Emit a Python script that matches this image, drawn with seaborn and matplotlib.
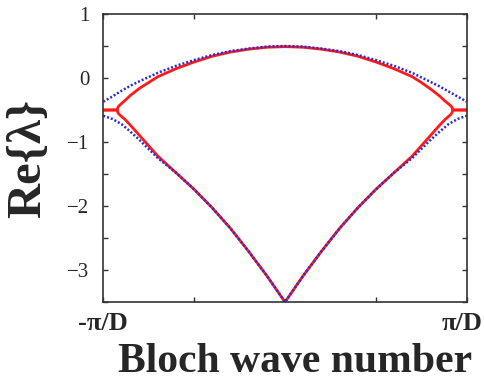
import seaborn as sns
import pandas as pd
import matplotlib.pyplot as plt
import numpy as np

# Bloch wave number in units of pi/D
k_blue = [-1.0, -0.95, -0.9, -0.85, -0.8, -0.7, -0.6, -0.5, -0.4, -0.3, -0.2, -0.1, 0.0,
          0.1, 0.2, 0.3, 0.4, 0.5, 0.6, 0.7, 0.8, 0.85, 0.9, 0.95, 1.0]
blue_upper = [-0.37, -0.29, -0.20, -0.12, -0.05, 0.08, 0.19, 0.28, 0.36, 0.42, 0.46, 0.49, 0.50,
              0.49, 0.46, 0.42, 0.36, 0.28, 0.19, 0.08, -0.06, -0.13, -0.21, -0.29, -0.37]
blue_lower = [-0.59, -0.64, -0.72, -0.84, -0.97, -1.25, -1.48, -1.74, -2.03, -2.35, -2.71, -3.09, -3.50,
              -3.09, -2.71, -2.35, -2.03, -1.74, -1.48, -1.25, -0.97, -0.84, -0.72, -0.64, -0.59]

k_red = [-1.0, -0.923, -0.92, -0.915, -0.91, -0.9, -0.88, -0.85, -0.8, -0.75, -0.7, -0.6, -0.5, -0.4,
         -0.3, -0.2, -0.1, 0.0, 0.1, 0.2, 0.3, 0.4, 0.5, 0.6, 0.7, 0.75, 0.8, 0.85, 0.88, 0.9,
         0.91, 0.915, 0.92, 0.923, 1.0]
red_upper = [-0.50, -0.50, -0.46, -0.44, -0.425, -0.40, -0.35, -0.27, -0.16, -0.07, 0.02, 0.145, 0.25, 0.34,
             0.405, 0.45, 0.48, 0.49, 0.48, 0.45, 0.405, 0.34, 0.25, 0.145, 0.02, -0.07, -0.17, -0.28, -0.36, -0.405,
             -0.43, -0.445, -0.46, -0.50, -0.50]
red_lower = [-0.50, -0.50, -0.54, -0.56, -0.575, -0.60, -0.65, -0.74, -0.90, -1.06, -1.22, -1.48, -1.74, -2.03,
             -2.35, -2.71, -3.09, -3.50, -3.09, -2.71, -2.35, -2.03, -1.74, -1.48, -1.22, -1.06, -0.90, -0.74, -0.65, -0.60,
             -0.575, -0.56, -0.54, -0.50, -0.50]

sns.set_style("ticks")
plt.rcParams['font.family'] = ['Liberation Serif', 'DejaVu Serif']

fig = plt.figure(figsize=(4.84, 3.81), dpi=100)
ax = fig.add_axes([0.2134, 0.2073, 0.7509, 0.756])

red = pd.DataFrame({"k": k_red, "upper": red_upper, "lower": red_lower})
blue = pd.DataFrame({"k": k_blue, "upper": blue_upper, "lower": blue_lower})

for col in ["upper", "lower"]:
    sns.lineplot(x="k", y=col, data=red, sort=False, color="#ff1a1a", lw=2.0, ax=ax)
for col in ["upper", "lower"]:
    sns.lineplot(x="k", y=col, data=blue, sort=False, color="#2a2ad8", lw=1.8,
                 linestyle=(0, (0.8, 0.8)), ax=ax)

ax.set_xlim(-1, 1)
ax.set_ylim(-3.5, 1)
ax.set_xticks([-1, -0.5, 0.5, 1])
ax.set_xticklabels(["-\u03c0/D", "", "", ""], fontsize=19, fontweight="bold")
# right label sits at the picture edge, as in the original
fig.text(482 / 484, 0.182, "\u03c0/D", ha="right", va="top", fontsize=19, fontweight="bold")
ax.set_yticks([-3, -2, -1, 0, 1])
ax.set_yticklabels(["\u22123", "\u22122", "\u22121", "0", "1"], fontsize=15)
ax.set_yticks(np.arange(-3.5, 1.01, 0.5), minor=True)
ax.tick_params(which="both", direction="in", length=3.5, width=1, top=True, right=True,
               color="#333333")
ax.tick_params(axis="y", pad=10)
ax.tick_params(axis="x", pad=7)
for s in ax.spines.values():
    s.set_color("#333333")
    s.set_linewidth(1.2)

ax.set_xlabel("Bloch wave number", fontsize=30, fontweight="bold")
ax.xaxis.set_label_coords(0.528, -0.142)
ax.set_ylabel("Re{\u03bb}", fontsize=35, fontweight="bold", labelpad=12)

fig.savefig("out.png", dpi=100)
